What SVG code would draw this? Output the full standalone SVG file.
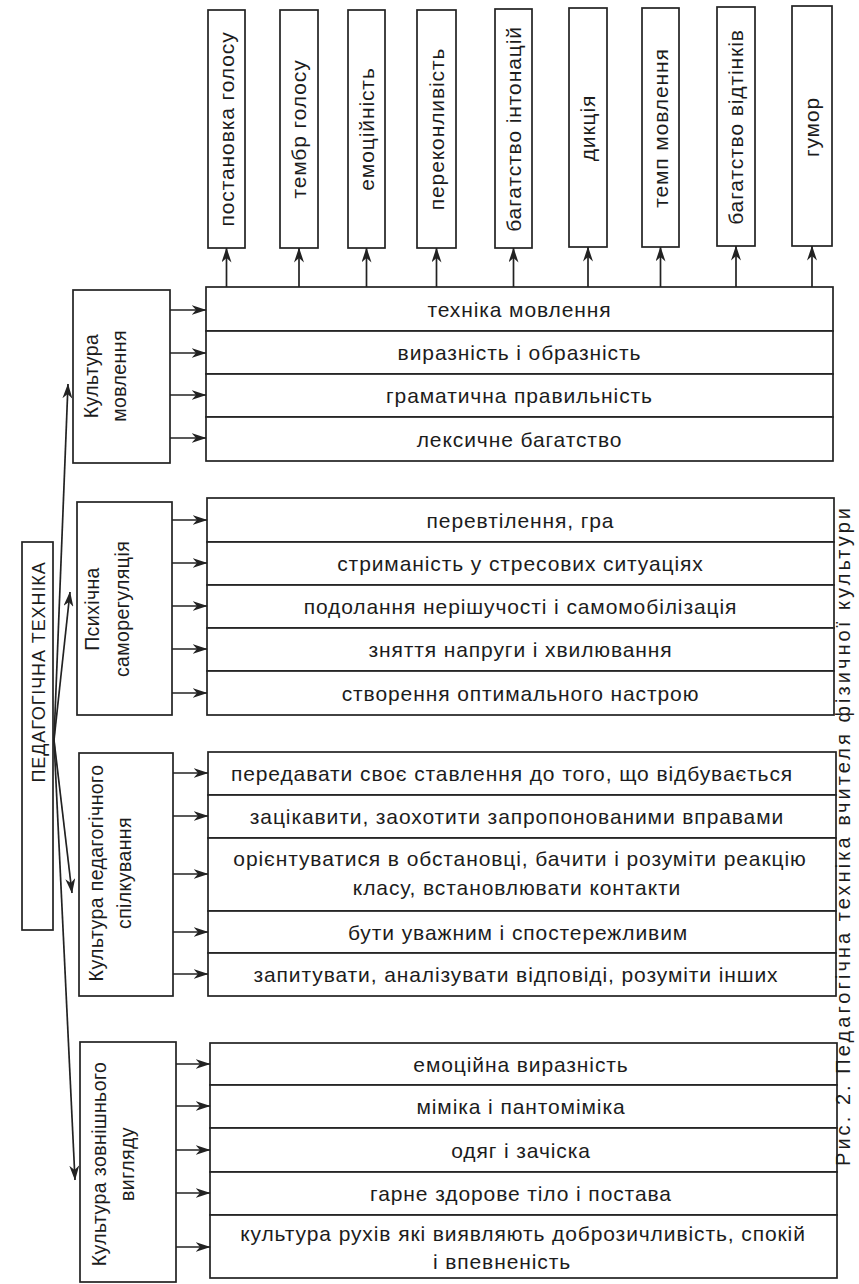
<svg xmlns="http://www.w3.org/2000/svg" width="859" height="1284" viewBox="0 0 859 1284">
<defs>
<style>
.b{fill:#fff;stroke:#222;stroke-width:1.7}
.t{font-family:"Liberation Sans",Arial,sans-serif;font-size:21px;letter-spacing:0.9px;fill:#1c1c1c;text-anchor:middle}
.l{font-size:19.5px;letter-spacing:0.4px}
.c line{stroke:#222;stroke-width:1.7;marker-end:url(#ah)}
.cap{font-family:"Liberation Sans",Arial,sans-serif;font-size:20px;fill:#1c1c1c}
</style>
<marker id="ah" viewBox="0 0 15 10" refX="14.5" refY="5" markerWidth="15" markerHeight="10" orient="auto" markerUnits="userSpaceOnUse">
<path d="M0,0 L15,5 L0,10 L4.5,5 z" fill="#222"/>
</marker>
</defs>
<rect width="859" height="1284" fill="#fff"/>

<!-- top vertical boxes -->
<g id="t1"><rect class="b" x="208" y="10" width="37" height="238"/><text class="t" transform="translate(233.5,129) rotate(-90)">постановка голосу</text></g>
<g id="t2"><rect class="b" x="280" y="10" width="38" height="238"/><text class="t" transform="translate(306,129) rotate(-90)">тембр голосу</text></g>
<g id="t3"><rect class="b" x="348" y="10" width="37" height="238"/><text class="t" transform="translate(373.5,129) rotate(-90)">емоційність</text></g>
<g id="t4"><rect class="b" x="417" y="10" width="39" height="238"/><text class="t" transform="translate(443.5,129) rotate(-90)">переконливість</text></g>
<g id="t5"><rect class="b" x="495" y="9" width="37" height="239"/><text class="t" transform="translate(520.5,129) rotate(-90)">багатство інтонацій</text></g>
<g id="t6"><rect class="b" x="569" y="8" width="38" height="239"/><text class="t" transform="translate(595,128) rotate(-90)">дикція</text></g>
<g id="t7"><rect class="b" x="642" y="8" width="37" height="239"/><text class="t" transform="translate(667.5,128) rotate(-90)">темп мовлення</text></g>
<g id="t8"><rect class="b" x="717" y="7" width="38" height="239"/><text class="t" transform="translate(743,127) rotate(-90)">багатство відтінків</text></g>
<g id="t9"><rect class="b" x="792" y="6" width="40" height="240"/><text class="t" transform="translate(819,127) rotate(-90)">гумор</text></g>

<!-- central node -->
<g id="root"><rect class="b" x="22" y="542" width="31" height="388"/><text class="t" style="font-size:18px" transform="translate(44.5,672) rotate(-90)">ПЕДАГОГІЧНА ТЕХНІКА</text></g>

<!-- left category boxes -->
<g id="km"><rect class="b" x="73" y="290" width="97" height="173"/><text class="t l" transform="translate(98,376) rotate(-90)"><tspan x="0" y="0">Культура</tspan><tspan x="0" y="28">мовлення</tspan></text></g>
<g id="ps"><rect class="b" x="77" y="502" width="95" height="213"/><text class="t l" transform="translate(99,609) rotate(-90)"><tspan x="0" y="0">Психічна</tspan><tspan x="0" y="30">саморегуляція</tspan></text></g>
<g id="kps"><rect class="b" x="79" y="753" width="94" height="243"/><text class="t l" transform="translate(103,873) rotate(-90)"><tspan x="0" y="0">Культура педагогічного</tspan><tspan x="0" y="28">спілкування</tspan></text></g>
<g id="kzv"><rect class="b" x="80" y="1042" width="96" height="240"/><text class="t l" transform="translate(106,1164) rotate(-90)"><tspan x="0" y="0">Культура зовнішнього</tspan><tspan x="0" y="28">вигляду</tspan></text></g>

<!-- group 1 -->
<g id="g1r1"><rect class="b" x="206" y="287" width="627" height="44"/><text class="t" x="519.5" y="316.5">техніка мовлення</text></g>
<g id="g1r2"><rect class="b" x="206" y="331" width="627" height="43"/><text class="t" x="519.5" y="360">виразність і образність</text></g>
<g id="g1r3"><rect class="b" x="206" y="374" width="627" height="43"/><text class="t" x="519.5" y="403">граматична правильність</text></g>
<g id="g1r4"><rect class="b" x="206" y="417" width="627" height="44"/><text class="t" x="519.5" y="446.5">лексичне багатство</text></g>

<!-- group 2 -->
<g id="g2r1"><rect class="b" x="207" y="498" width="627" height="44"/><text class="t" x="520.5" y="527.5">перевтілення, гра</text></g>
<g id="g2r2"><rect class="b" x="207" y="542" width="627" height="43"/><text class="t" x="520.5" y="571">стриманість у стресових ситуаціях</text></g>
<g id="g2r3"><rect class="b" x="207" y="585" width="627" height="43"/><text class="t" x="520.5" y="614">подолання нерішучості і самомобілізація</text></g>
<g id="g2r4"><rect class="b" x="207" y="628" width="627" height="43"/><text class="t" x="520.5" y="657">зняття напруги і хвилювання</text></g>
<g id="g2r5"><rect class="b" x="207" y="671" width="627" height="44"/><text class="t" x="520.5" y="700.5">створення оптимального настрою</text></g>

<!-- group 3 -->
<g id="g3r1"><rect class="b" x="208" y="752" width="628" height="43"/><text class="t" x="512" y="781">передавати своє ставлення до того, що відбувається</text></g>
<g id="g3r2"><rect class="b" x="208" y="795" width="628" height="43"/><text class="t" x="517" y="824">зацікавити, заохотити запропонованими вправами</text></g>
<g id="g3r3"><rect class="b" x="208" y="838" width="628" height="73"/><text class="t" x="520" y="866">орієнтуватися в обстановці, бачити і розуміти реакцію</text><text class="t" x="517" y="895">класу, встановлювати контакти</text></g>
<g id="g3r4"><rect class="b" x="208" y="911" width="628" height="42"/><text class="t" x="518" y="939.5">бути уважним і спостережливим</text></g>
<g id="g3r5"><rect class="b" x="208" y="953" width="628" height="43"/><text class="t" x="516" y="982">запитувати, аналізувати відповіді, розуміти інших</text></g>

<!-- group 4 -->
<g id="g4r1"><rect class="b" x="210" y="1043" width="627" height="42"/><text class="t" x="521" y="1071.5">емоційна виразність</text></g>
<g id="g4r2"><rect class="b" x="210" y="1085" width="627" height="43"/><text class="t" x="521" y="1114">міміка і пантоміміка</text></g>
<g id="g4r3"><rect class="b" x="210" y="1128" width="627" height="44"/><text class="t" x="521" y="1157.5">одяг і зачіска</text></g>
<g id="g4r4"><rect class="b" x="210" y="1172" width="627" height="43"/><text class="t" x="521" y="1201">гарне здорове тіло і постава</text></g>
<g id="g4r5"><rect class="b" x="210" y="1215" width="627" height="63"/><text class="t" x="523" y="1241">культура рухів які виявляють доброзичливість, спокій</text><text class="t" x="502" y="1269">і впевненість</text></g>

<!-- caption -->
<text class="cap" transform="translate(850,1166) rotate(-90)" textLength="658" lengthAdjust="spacing">Рис. 2. Педагогічна техніка вчителя фізичної культури</text>

<!-- connectors -->
<g class="c" id="connectors">
<line x1="226.5" y1="287" x2="226.5" y2="248"/>
<line x1="299" y1="287" x2="299" y2="248"/>
<line x1="366.5" y1="287" x2="366.5" y2="248"/>
<line x1="436.5" y1="287" x2="436.5" y2="248"/>
<line x1="513.5" y1="287" x2="513.5" y2="248"/>
<line x1="588" y1="287" x2="588" y2="247"/>
<line x1="660.5" y1="287" x2="660.5" y2="247"/>
<line x1="736" y1="287" x2="736" y2="246"/>
<line x1="812" y1="287" x2="812" y2="246"/>

<line x1="54" y1="740" x2="68" y2="384"/>
<line x1="54" y1="740" x2="70" y2="592"/>
<line x1="54" y1="740" x2="72" y2="893"/>
<line x1="54" y1="740" x2="75" y2="1180"/>

<line x1="170" y1="310" x2="206" y2="310"/>
<line x1="170" y1="353" x2="206" y2="353"/>
<line x1="170" y1="395" x2="206" y2="395"/>
<line x1="170" y1="438" x2="206" y2="438"/>

<line x1="172" y1="520" x2="207" y2="520"/>
<line x1="172" y1="563" x2="207" y2="563"/>
<line x1="172" y1="606" x2="207" y2="606"/>
<line x1="172" y1="649" x2="207" y2="649"/>
<line x1="172" y1="693" x2="207" y2="693"/>

<line x1="173" y1="773" x2="208" y2="773"/>
<line x1="173" y1="816" x2="208" y2="816"/>
<line x1="173" y1="874" x2="208" y2="874"/>
<line x1="173" y1="932" x2="208" y2="932"/>
<line x1="173" y1="974" x2="208" y2="974"/>

<line x1="176" y1="1064" x2="210" y2="1064"/>
<line x1="176" y1="1106" x2="210" y2="1106"/>
<line x1="176" y1="1150" x2="210" y2="1150"/>
<line x1="176" y1="1193" x2="210" y2="1193"/>
<line x1="176" y1="1247" x2="210" y2="1247"/>
</g>
</svg>
